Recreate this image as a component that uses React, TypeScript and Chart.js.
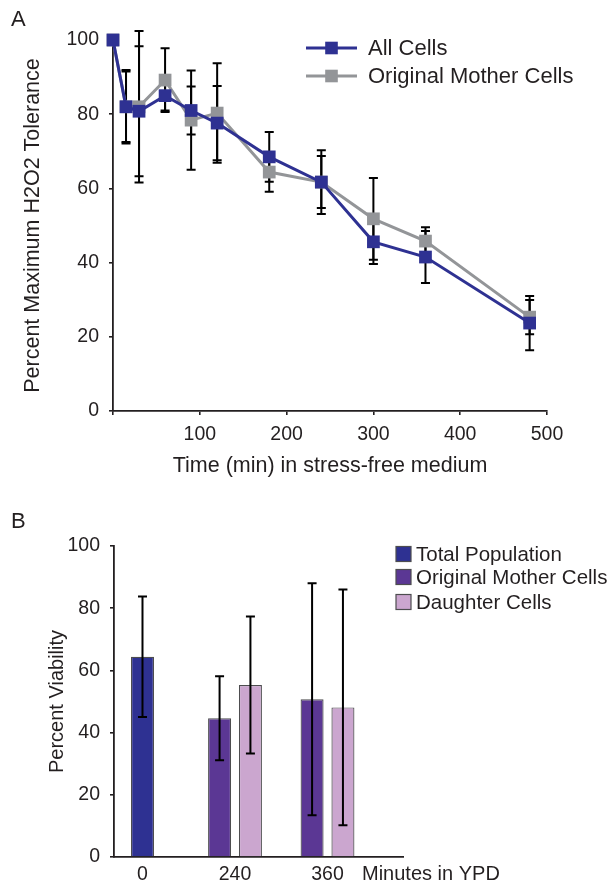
import React, { useEffect, useRef } from "react";
import { Chart, registerables } from "chart.js";

Chart.register(...registerables);

const FONT = "'Liberation Sans', Arial, Helvetica, sans-serif";
const INK = "#231f20";
Chart.defaults.font.family = FONT;
Chart.defaults.color = INK;

// ---------- Panel A data ----------
const timePoints = [0, 15, 30, 60, 90, 120, 180, 240, 300, 360, 480];
const allCells = [100, 82, 80.8, 85, 81, 77.6, 68.5, 61.7, 45.6, 41.5, 23.7];
const allCellsErr = [0, 9.9, 17.5, 4, 6.5, 10, 6.7, 8.6, 6, 7, 7.3];
const motherCells = [100, 82, 82, 89.2, 78.4, 80.3, 64.4, 61.7, 51.8, 45.8, 25.3];
const motherCellsErr = [0, 9.5, 20.4, 8.6, 13.4, 13.4, 5.3, 7, 11, 3.7, 4.6];
const seriesNamesA = ["All Cells", "Original Mother Cells"];

// ---------- Panel B data ----------
const ypdLabels = ["0", "240", "360"];
const totalPopulation = [64.4, null, null];
const totalPopulationErr = [19.4, 0, 0];
const originalMothers = [null, 44.6, 50.7];
const originalMothersErr = [0, 13.5, 37.3];
const daughterCells = [null, 55.3, 48.1];
const daughterCellsErr = [0, 22, 37.9];
const seriesNamesB = ["Total Population", "Original Mother Cells", "Daughter Cells"];

const BLUE = "#2e3192";
const GRAY = "#939598";
const PURPLE = "#5b3794";
const LILAC = "#cba6cf";

const errorBarsPlugin = {
  id: "errorBars",
  draw(chart: any) {
    const { ctx } = chart;
    const yScale = chart.scales.y;
    ctx.save();
    ctx.strokeStyle = "#000";
    ctx.lineWidth = 2;
    chart.data.datasets.forEach((ds: any, di: number) => {
      const errs = ds.errors;
      if (!errs) return;
      const meta = chart.getDatasetMeta(di);
      meta.data.forEach((el: any, i: number) => {
        const raw = ds.data[i];
        const v = raw && typeof raw === "object" ? raw.y : raw;
        const e = errs[i];
        if (v == null || !e) return;
        const x = el.x;
        const yt = yScale.getPixelForValue(v + e);
        const yb = yScale.getPixelForValue(v - e);
        const cap = 4.5;
        ctx.beginPath();
        ctx.moveTo(x, yt);
        ctx.lineTo(x, yb);
        ctx.moveTo(x - cap, yt);
        ctx.lineTo(x + cap, yt);
        ctx.moveTo(x - cap, yb);
        ctx.lineTo(x + cap, yb);
        ctx.stroke();
      });
    });
    ctx.restore();
  },
  beforeDatasetsDraw(chart: any, _a: any, opts: any) {
    if (!opts.above) (errorBarsPlugin as any).draw(chart);
  },
  afterDatasetsDraw(chart: any, _a: any, opts: any) {
    if (opts.above) (errorBarsPlugin as any).draw(chart);
  },
};

const decorAPlugin = {
  id: "decorA",
  afterDraw(chart: any) {
    const { ctx } = chart;
    ctx.save();
    ctx.fillStyle = INK;
    ctx.font = `22px ${FONT}`;
    ctx.textBaseline = "middle";
    ctx.textAlign = "left";
    ctx.fillText("A", 11, 20);
    const colors = [BLUE, GRAY];
    const rows = [48, 76];
    seriesNamesA.forEach((name, i) => {
      const y = rows[i];
      ctx.strokeStyle = colors[i];
      ctx.lineWidth = 3;
      ctx.beginPath();
      ctx.moveTo(306, y);
      ctx.lineTo(357, y);
      ctx.stroke();
      ctx.fillStyle = colors[i];
      ctx.fillRect(331.5 - 6.3, y - 6.3, 12.6, 12.6);
      ctx.fillStyle = INK;
      ctx.font = `22px ${FONT}`;
      ctx.fillText(name, 368, y + 1);
    });
    ctx.restore();
  },
};

const decorBPlugin = {
  id: "decorB",
  afterDraw(chart: any) {
    const { ctx } = chart;
    ctx.save();
    ctx.fillStyle = INK;
    ctx.font = `22px ${FONT}`;
    ctx.textBaseline = "middle";
    ctx.textAlign = "left";
    ctx.fillText("B", 11, 32);
    const colors = [BLUE, PURPLE, LILAC];
    const rows = [64, 87, 112];
    seriesNamesB.forEach((name, i) => {
      const y = rows[i];
      ctx.fillStyle = colors[i];
      ctx.fillRect(396, y - 7.5, 15, 15);
      ctx.strokeStyle = "#4d4d4f";
      ctx.lineWidth = 1.2;
      ctx.strokeRect(396, y - 7.5, 15, 15);
      ctx.fillStyle = INK;
      ctx.font = `20.5px ${FONT}`;
      ctx.fillText(name, 416, y + 1);
    });
    ctx.font = `20px ${FONT}`;
    ctx.fillText("Minutes in YPD", 362, 384);
    ctx.restore();
  },
};

const axisStyle = (tickLen: number, drawTicks: boolean) => ({
  grid: {
    drawOnChartArea: false,
    drawTicks,
    tickLength: tickLen,
    color: INK,
    lineWidth: 1.6,
  },
  border: { display: true, color: INK, width: 1.8 },
});

export default function App() {
  const refA = useRef<HTMLCanvasElement>(null);
  const refB = useRef<HTMLCanvasElement>(null);

  useEffect(() => {
    const chartA = new Chart(refA.current as HTMLCanvasElement, {
      type: "line",
      data: {
        datasets: [
          {
            label: seriesNamesA[0],
            data: timePoints.map((t, i) => ({ x: t, y: allCells[i] })),
            errors: allCellsErr,
            borderColor: BLUE,
            backgroundColor: BLUE,
            pointBackgroundColor: BLUE,
            borderWidth: 3,
            pointStyle: "rect",
            pointRadius: 9,
            pointBorderWidth: 0,
            clip: false,
          } as any,
          {
            label: seriesNamesA[1],
            data: timePoints.map((t, i) => ({ x: t, y: motherCells[i] })),
            errors: motherCellsErr,
            borderColor: GRAY,
            backgroundColor: GRAY,
            pointBackgroundColor: GRAY,
            borderWidth: 3,
            pointStyle: "rect",
            pointRadius: 9,
            pointBorderWidth: 0,
            clip: false,
          } as any,
        ],
      },
      options: {
        animation: false,
        responsive: true,
        maintainAspectRatio: false,
        layout: { padding: { left: 0, top: 40, right: 63, bottom: 0 } },
        plugins: {
          legend: { display: false },
          tooltip: { enabled: false },
          errorBars: { above: false },
        } as any,
        scales: {
          x: {
            type: "linear",
            min: 0,
            max: 500,
            afterFit: (s: any) => {
              s.height = 79;
            },
            ticks: {
              stepSize: 100,
              color: INK,
              font: { size: 19.5, family: FONT },
              padding: 8,
              maxRotation: 0,
              callback: (v: any) => (v === 0 ? "" : String(v)),
            },
            ...axisStyle(4, true),
            title: {
              display: true,
              text: "Time (min) in stress-free medium",
              color: INK,
              font: { size: 21.5, family: FONT },
              padding: { top: 0, bottom: 11 },
            },
          },
          y: {
            type: "linear",
            min: 0,
            max: 100,
            afterFit: (s: any) => {
              s.width = 113;
            },
            ticks: {
              stepSize: 20,
              color: INK,
              font: { size: 19.5, family: FONT },
              padding: 10,
            },
            ...axisStyle(4, true),
            title: {
              display: true,
              text: "Percent Maximum H2O2 Tolerance",
              color: INK,
              font: { size: 21.5, family: FONT },
              padding: { top: 20, bottom: 0 },
            },
          },
        } as any,
      },
      plugins: [errorBarsPlugin as any, decorAPlugin as any],
    });

    const barDs = (label: string, vals: (number | null)[], errs: number[], color: string) =>
      ({
        label,
        data: vals.map((v, i) => ({ x: i, y: v })),
        errors: errs,
        backgroundColor: color,
        borderColor: "#4d4d4f",
        borderWidth: 1.2,
        skipNull: true,
        barPercentage: 0.76,
        categoryPercentage: 0.667,
        maxBarThickness: 23,
      } as any);

    const chartB = new Chart(refB.current as HTMLCanvasElement, {
      type: "bar",
      data: {
        datasets: [
          barDs(seriesNamesB[0], totalPopulation, totalPopulationErr, BLUE),
          barDs(seriesNamesB[1], originalMothers, originalMothersErr, PURPLE),
          barDs(seriesNamesB[2], daughterCells, daughterCellsErr, LILAC),
        ],
      },
      options: {
        animation: false,
        responsive: true,
        maintainAspectRatio: false,
        layout: { padding: { left: 0, top: 56, right: 207, bottom: 0 } },
        plugins: {
          legend: { display: false },
          tooltip: { enabled: false },
          errorBars: { above: true },
        } as any,
        scales: {
          x: {
            type: "linear",
            offset: false,
            min: -0.308,
            max: 2.816,
            afterFit: (s: any) => {
              s.height = 29;
            },
            ticks: {
              stepSize: 1,
              includeBounds: false,
              autoSkip: false,
              maxRotation: 0,
              color: INK,
              font: { size: 19.5, family: FONT },
              padding: 6,
              callback: (v: any) => (ypdLabels[v] !== undefined ? ypdLabels[v] : ""),
            },
            grid: { drawOnChartArea: false, drawTicks: false, offset: false, color: INK },
            border: { display: true, color: INK, width: 1.8 },
          },
          y: {
            type: "linear",
            min: 0,
            max: 100,
            afterFit: (s: any) => {
              s.width = 114;
            },
            ticks: {
              stepSize: 20,
              color: INK,
              font: { size: 19.5, family: FONT },
              padding: 10,
            },
            ...axisStyle(4, true),
            title: {
              display: true,
              text: "Percent Viability",
              color: INK,
              font: { size: 20, family: FONT },
              padding: { top: 45, bottom: 0 },
            },
          },
        } as any,
      },
      plugins: [errorBarsPlugin as any, decorBPlugin as any],
    });

    return () => {
      chartA.destroy();
      chartB.destroy();
    };
  }, []);

  return (
    <div style={{ position: "absolute", left: 0, top: 0, width: 610, height: 886, background: "#fff" }}>
      <div style={{ position: "absolute", left: 0, top: 0, width: 610, height: 490 }}>
        <canvas ref={refA} />
      </div>
      <div style={{ position: "absolute", left: 0, top: 490, width: 610, height: 396 }}>
        <canvas ref={refB} />
      </div>
    </div>
  );
}
